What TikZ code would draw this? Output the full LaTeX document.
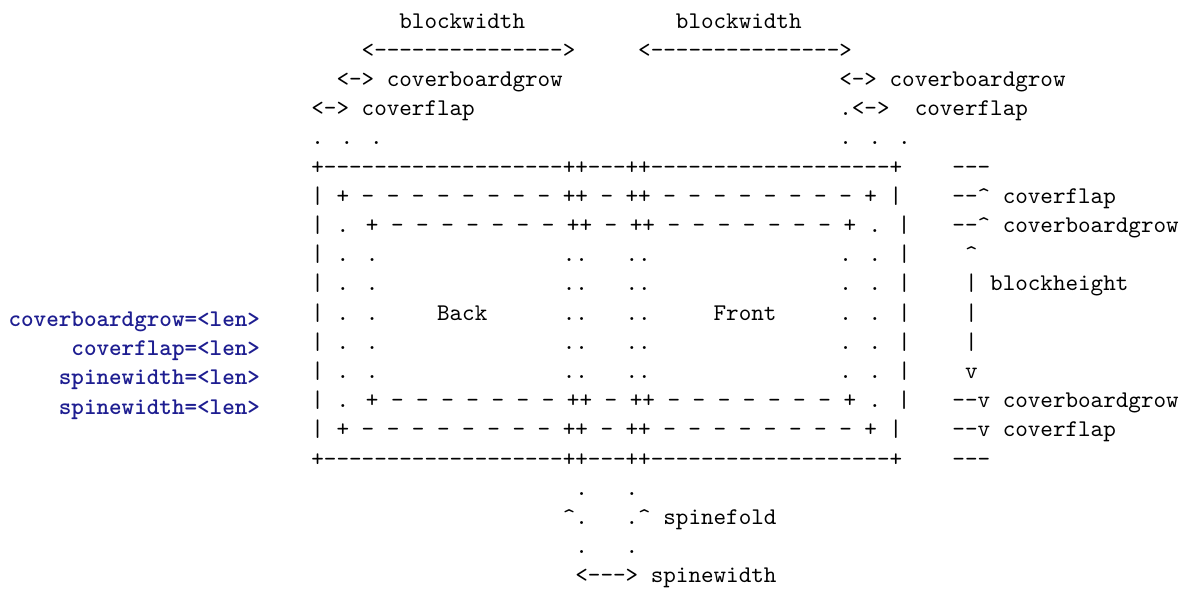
\documentclass[tikz,border=0pt]{standalone}
\usepackage{xcolor}
\definecolor{optblue}{RGB}{30,30,145}
\newcommand\hy{-\kern0pt}
\newcommand\hys[1]{\foreach\ii in {1,...,#1}{\hy}}
\newcommand\crt{\textasciicircum}
\tikzset{
  tok/.style={anchor=base west,inner sep=0pt,outer sep=0pt,
    font=\ttfamily\fontsize{10pt}{12pt}\selectfont},
  opt/.style={anchor=base east,inner sep=0pt,outer sep=0pt,text=optblue,
    font=\ttfamily\bfseries\fontsize{10pt}{12pt}\selectfont}}
% token at column #2, row #3
\newcommand\tk[4]{\node[tok] (#1) at ({311.4+#2*12.57},{28+#3*29.2}) {#4};}
\begin{document}
\begin{tikzpicture}[x=0.41766pt,y=-0.41766pt]
\useasboundingbox[fill=white] (0,0) rectangle (1181,588);
% top annotations
\tk{bwa}{7}{0}{blockwidth}
\tk{bwb}{29}{0}{blockwidth}
\tk{arra}{4}{1}{<\hys{15}>}
\tk{arrb}{26}{1}{<\hys{15}>}
\tk{cbgl}{2}{2}{<\hy> coverboardgrow}
\tk{cbgr}{42}{2}{<\hy> coverboardgrow}
\tk{cfl}{0}{3}{<\hy> coverflap}
\tk{cfrdot}{42}{3}{.}
\tk{cfrarr}{43}{3}{<\hy>}
\tk{cfr}{48}{3}{coverflap}
\tk{dotsl}{0}{4}{. . .}
\tk{dotsr}{42}{4}{. . .}
% body
\tk{r5}{0}{5}{+\hys{19}++\hys{3}++\hys{19}+}
\tk{r6}{0}{6}{| + - - - - - - - - ++ - ++ - - - - - - - - + |}
\tk{r7}{0}{7}{| . + - - - - - - - ++ - ++ - - - - - - - + . |}
\foreach \r in {8,...,12}{
  \tk{r\r a}{0}{\r}{| . .}
  \tk{r\r b}{20}{\r}{..}
  \tk{r\r c}{25}{\r}{..}
  \tk{r\r d}{42}{\r}{. . |}
}
\tk{back}{10}{10}{Back}
\tk{front}{32}{10}{Front}
\tk{r13}{0}{13}{| . + - - - - - - - ++ - ++ - - - - - - - + . |}
\tk{r14}{0}{14}{| + - - - - - - - - ++ - ++ - - - - - - - - + |}
\tk{r15}{0}{15}{+\hys{19}++\hys{3}++\hys{19}+}
% right annotations
\tk{m5}{51}{5}{\hys{3}}
\tk{m6}{51}{6}{\hy\hy\crt{} coverflap}
\tk{m7}{51}{7}{\hy\hy\crt{} coverboardgrow}
\tk{m8}{52}{8}{\crt}
\tk{m9}{52}{9}{| blockheight}
\tk{m10}{52}{10}{|}
\tk{m11}{52}{11}{|}
\tk{m12}{52}{12}{v}
\tk{m13}{51}{13}{\hy\hy v coverboardgrow}
\tk{m14}{51}{14}{\hy\hy v coverflap}
\tk{m15}{51}{15}{\hys{3}}
% bottom annotations
\tk{b16a}{21}{16}{.}
\tk{b16b}{25}{16}{.}
\tk{b17a}{20}{17}{\crt.}
\tk{b17b}{25}{17}{.\crt{} spinefold}
\tk{b18a}{21}{18}{.}
\tk{b18b}{25}{18}{.}
\tk{b19}{21}{19}{<\hy\hy\hy> spinewidth}
% option labels
\node[opt] (o1) at (260,326.5) {coverboardgrow=<len>};
\node[opt] (o2) at (260,355.7) {coverflap=<len>};
\node[opt] (o3) at (260,384.9) {spinewidth=<len>};
\node[opt] (o4) at (260,414.1) {spinewidth=<len>};
\end{tikzpicture}
\end{document}
